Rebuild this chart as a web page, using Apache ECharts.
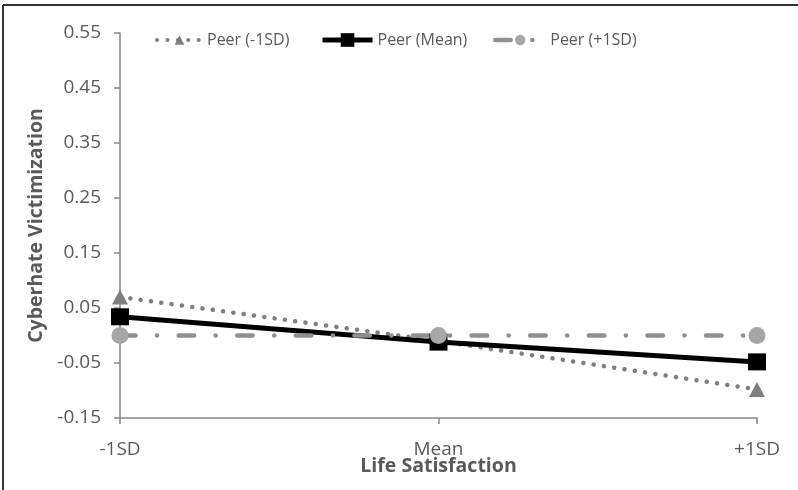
<!DOCTYPE html>
<html>
<head>
<meta charset="utf-8">
<script src="https://cdn.jsdelivr.net/npm/echarts@6/dist/echarts.min.js"></script>
<style>
html,body{margin:0;padding:0;background:#fff;}
#chart{width:798px;height:490px;}
</style>
</head>
<body>
<div id="chart"></div>
<script>
var categories = ['-1SD', 'Mean', '+1SD'];
var peerLow = [0.070, -0.010, -0.098];
var peerMean = [0.034, -0.012, -0.048];
var peerHigh = [0.000, 0.000, 0.000];
var yTicks = [-0.15, -0.05, 0.05, 0.15, 0.25, 0.35, 0.45, 0.55];
var seriesNames = ['Peer (-1SD)', 'Peer (Mean)', 'Peer (+1SD)'];

var FONT = 'Open Sans';
var TXT = '#595959';
var DOT = [0.1, 10.3];
var DASHDOT = [15.5, 21.5, 0.1, 21.5];
var chart = echarts.init(document.getElementById('chart'));
chart.setOption({
  backgroundColor: '#fff',
  animation: false,
  textStyle: {fontFamily: FONT},
  graphic: [
    {type: 'line', shape: {x1: 3, y1: 5, x2: 798, y2: 5}, style: {stroke: '#333', lineWidth: 2}},
    {type: 'line', shape: {x1: 3, y1: 5, x2: 3, y2: 490}, style: {stroke: '#333', lineWidth: 2}}
  ],
  grid: {left: 120, right: 41, top: 33, bottom: 72},
  legend: [
    {data: [seriesNames[0]], left: 150, top: 27, itemWidth: 45, itemHeight: 12, itemGap: 8,
     lineStyle: {width: 4, type: DOT, cap: 'round'},
     textStyle: {color: TXT, fontSize: 16, fontFamily: FONT}},
    {data: [seriesNames[1]], left: 315, top: 27, itemWidth: 50, itemHeight: 17, itemGap: 2,
     lineStyle: {width: 5},
     textStyle: {color: TXT, fontSize: 16, fontFamily: FONT}},
    {data: [seriesNames[2]], left: 488, top: 27, itemWidth: 50, itemHeight: 13, itemGap: 3,
     lineStyle: {width: 4.5, type: DASHDOT, cap: 'round'},
     textStyle: {color: TXT, fontSize: 16, fontFamily: FONT}}
  ],
  xAxis: {
    type: 'category',
    data: categories,
    boundaryGap: false,
    name: 'Life Satisfaction',
    nameLocation: 'middle',
    nameGap: 38,
    nameMoveOverlap: false,
    nameTextStyle: {color: TXT, fontSize: 19.5, fontWeight: 'bold', fontFamily: FONT},
    axisLine: {onZero: false, lineStyle: {color: '#868686', width: 1.5}},
    axisTick: {show: true, length: 6, alignWithLabel: true, lineStyle: {color: '#868686', width: 1.5}},
    axisLabel: {color: TXT, fontSize: 19, margin: 22, fontFamily: FONT},
    splitLine: {show: false}
  },
  yAxis: {
    type: 'value',
    min: -0.15,
    max: 0.55,
    name: 'Cyberhate Victimization',
    nameLocation: 'middle',
    nameGap: 74,
    nameMoveOverlap: false,
    nameTextStyle: {color: TXT, fontSize: 19.5, fontWeight: 'bold', fontFamily: FONT},
    axisLine: {show: true, lineStyle: {color: '#868686', width: 1.5}},
    axisTick: {show: true, length: 6, customValues: yTicks, lineStyle: {color: '#868686', width: 1.5}},
    axisLabel: {color: TXT, fontSize: 19, margin: 19, fontFamily: FONT, customValues: yTicks,
      formatter: function (v) { return v.toFixed(2); }},
    splitLine: {show: false}
  },
  series: [
    {
      name: seriesNames[0], type: 'line', data: peerLow,
      symbol: 'triangle', symbolSize: [16, 15],
      itemStyle: {color: '#7f7f7f'},
      lineStyle: {color: '#7f7f7f', width: 4.5, type: DOT, cap: 'round'}
    },
    {
      name: seriesNames[1], type: 'line', data: peerMean,
      symbol: 'rect', symbolSize: [18, 17],
      itemStyle: {color: '#000'},
      lineStyle: {color: '#000', width: 5}
    },
    {
      name: seriesNames[2], type: 'line', data: peerHigh,
      symbol: 'circle', symbolSize: 17,
      itemStyle: {color: '#a6a6a6'},
      lineStyle: {color: '#8f8f8f', width: 4.5, type: DASHDOT, cap: 'round'}
    }
  ]
});
</script>
</body>
</html>
